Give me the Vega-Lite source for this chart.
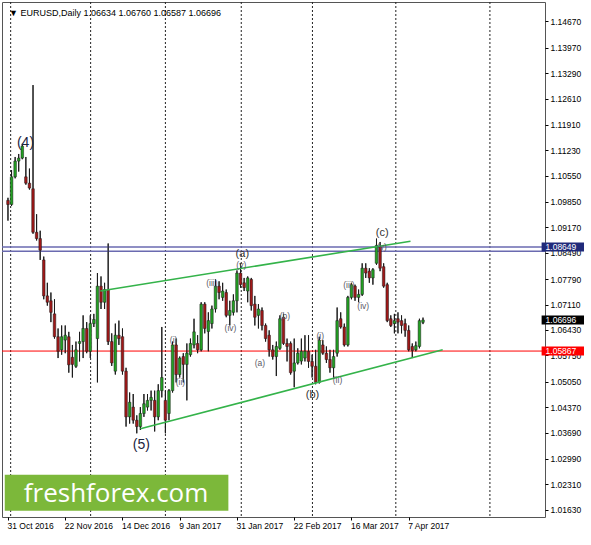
{
"$schema": "https://vega.github.io/schema/vega-lite/v6.json",
"width": 543, "height": 515,
"autosize": {"type": "none"},
"padding": {"left": 2, "top": 2, "right": 46, "bottom": 28},
"background": "white",
"config": {
 "view": {"stroke": "#555", "strokeWidth": 1},
 "axis": {"labelFont": "Liberation Sans", "labelFontSize": 8.5, "labelColor": "#000", "tickColor": "#000"}
},
"datasets": {
 "candles": [
{"i":0,"o":1.0989,"h":1.0996,"l":1.0935,"c":1.0978},
{"i":1,"o":1.0978,"h":1.1070,"l":1.0974,"c":1.1052},
{"i":2,"o":1.1052,"h":1.1105,"l":1.1048,"c":1.1094},
{"i":3,"o":1.1094,"h":1.1113,"l":1.1066,"c":1.1102},
{"i":4,"o":1.1102,"h":1.1140,"l":1.1099,"c":1.1134},
{"i":5,"o":1.1052,"h":1.1105,"l":1.1031,"c":1.1035},
{"i":6,"o":1.1035,"h":1.1074,"l":1.1018,"c":1.1022},
{"i":7,"o":1.1020,"h":1.1297,"l":1.0900,"c":1.0904},
{"i":8,"o":1.0904,"h":1.0952,"l":1.0882,"c":1.0887},
{"i":9,"o":1.0887,"h":1.0908,"l":1.0830,"c":1.0856},
{"i":10,"o":1.0830,"h":1.0839,"l":1.0725,"c":1.0734},
{"i":11,"o":1.0734,"h":1.0769,"l":1.0708,"c":1.0717},
{"i":12,"o":1.0721,"h":1.0743,"l":1.0664,"c":1.0690},
{"i":13,"o":1.0686,"h":1.0725,"l":1.0620,"c":1.0625},
{"i":14,"o":1.0625,"h":1.0647,"l":1.0568,"c":1.0586},
{"i":15,"o":1.0590,"h":1.0655,"l":1.0577,"c":1.0625},
{"i":16,"o":1.0616,"h":1.0655,"l":1.0581,"c":1.0629},
{"i":17,"o":1.0625,"h":1.0638,"l":1.0529,"c":1.0550},
{"i":18,"o":1.0570,"h":1.0603,"l":1.0516,"c":1.0551},
{"i":19,"o":1.0546,"h":1.0612,"l":1.0542,"c":1.0590},
{"i":20,"o":1.0607,"h":1.0638,"l":1.0559,"c":1.0612},
{"i":21,"o":1.0612,"h":1.0682,"l":1.0568,"c":1.0647},
{"i":22,"o":1.0647,"h":1.0664,"l":1.0581,"c":1.0586},
{"i":23,"o":1.0586,"h":1.0682,"l":1.0568,"c":1.0660},
{"i":24,"o":1.0660,"h":1.0686,"l":1.0651,"c":1.0671},
{"i":25,"o":1.0620,"h":1.0795,"l":1.0503,"c":1.0760},
{"i":26,"o":1.0760,"h":1.0786,"l":1.0699,"c":1.0717},
{"i":27,"o":1.0717,"h":1.0769,"l":1.0699,"c":1.0751},
{"i":28,"o":1.0751,"h":1.0874,"l":1.0603,"c":1.0612},
{"i":29,"o":1.0612,"h":1.0634,"l":1.0547,"c":1.0555},
{"i":30,"o":1.0533,"h":1.0660,"l":1.0524,"c":1.0629},
{"i":31,"o":1.0629,"h":1.0668,"l":1.0603,"c":1.0620},
{"i":32,"o":1.0625,"h":1.0647,"l":1.0524,"c":1.0533},
{"i":33,"o":1.0533,"h":1.0542,"l":1.0385,"c":1.0411},
{"i":34,"o":1.0411,"h":1.0476,"l":1.0393,"c":1.0450},
{"i":35,"o":1.0437,"h":1.0472,"l":1.0393,"c":1.0402},
{"i":36,"o":1.0402,"h":1.0415,"l":1.0367,"c":1.0385},
{"i":37,"o":1.0385,"h":1.0437,"l":1.0376,"c":1.0420},
{"i":38,"o":1.0420,"h":1.0472,"l":1.0411,"c":1.0446},
{"i":39,"o":1.0437,"h":1.0472,"l":1.0428,"c":1.0455},
{"i":40,"o":1.0455,"h":1.0481,"l":1.0428,"c":1.0463},
{"i":41,"o":1.0455,"h":1.0481,"l":1.0372,"c":1.0411},
{"i":42,"o":1.0411,"h":1.0498,"l":1.0402,"c":1.0481},
{"i":43,"o":1.0481,"h":1.0651,"l":1.0463,"c":1.0516},
{"i":44,"o":1.0455,"h":1.0481,"l":1.0367,"c":1.0402},
{"i":45,"o":1.0420,"h":1.0485,"l":1.0402,"c":1.0481},
{"i":46,"o":1.0481,"h":1.0612,"l":1.0476,"c":1.0603},
{"i":47,"o":1.0603,"h":1.0620,"l":1.0503,"c":1.0524},
{"i":48,"o":1.0524,"h":1.0572,"l":1.0516,"c":1.0568},
{"i":49,"o":1.0572,"h":1.0581,"l":1.0503,"c":1.0551},
{"i":50,"o":1.0551,"h":1.0607,"l":1.0455,"c":1.0581},
{"i":51,"o":1.0577,"h":1.0620,"l":1.0572,"c":1.0607},
{"i":52,"o":1.0603,"h":1.0673,"l":1.0594,"c":1.0638},
{"i":53,"o":1.0607,"h":1.0629,"l":1.0581,"c":1.0590},
{"i":54,"o":1.0590,"h":1.0717,"l":1.0586,"c":1.0712},
{"i":55,"o":1.0712,"h":1.0717,"l":1.0634,"c":1.0647},
{"i":56,"o":1.0639,"h":1.0690,"l":1.0586,"c":1.0668},
{"i":57,"o":1.0660,"h":1.0708,"l":1.0647,"c":1.0699},
{"i":58,"o":1.0699,"h":1.0778,"l":1.0690,"c":1.0760},
{"i":59,"o":1.0760,"h":1.0773,"l":1.0725,"c":1.0743},
{"i":60,"o":1.0730,"h":1.0769,"l":1.0721,"c":1.0747},
{"i":61,"o":1.0743,"h":1.0751,"l":1.0677,"c":1.0682},
{"i":62,"o":1.0682,"h":1.0721,"l":1.0655,"c":1.0695},
{"i":63,"o":1.0690,"h":1.0738,"l":1.0682,"c":1.0721},
{"i":64,"o":1.0721,"h":1.0802,"l":1.0690,"c":1.0795},
{"i":65,"o":1.0795,"h":1.0821,"l":1.0756,"c":1.0764},
{"i":66,"o":1.0769,"h":1.0782,"l":1.0747,"c":1.0756},
{"i":67,"o":1.0747,"h":1.0786,"l":1.0717,"c":1.0782},
{"i":68,"o":1.0778,"h":1.0782,"l":1.0695,"c":1.0708},
{"i":69,"o":1.0712,"h":1.0734,"l":1.0655,"c":1.0677},
{"i":70,"o":1.0682,"h":1.0712,"l":1.0647,"c":1.0699},
{"i":71,"o":1.0695,"h":1.0703,"l":1.0642,"c":1.0655},
{"i":72,"o":1.0655,"h":1.0660,"l":1.0612,"c":1.0620},
{"i":73,"o":1.0629,"h":1.0642,"l":1.0572,"c":1.0590},
{"i":74,"o":1.0590,"h":1.0603,"l":1.0564,"c":1.0572},
{"i":75,"o":1.0572,"h":1.0612,"l":1.0520,"c":1.0599},
{"i":76,"o":1.0594,"h":1.0682,"l":1.0590,"c":1.0673},
{"i":77,"o":1.0677,"h":1.0686,"l":1.0603,"c":1.0607},
{"i":78,"o":1.0607,"h":1.0620,"l":1.0559,"c":1.0599},
{"i":79,"o":1.0607,"h":1.0612,"l":1.0524,"c":1.0529},
{"i":80,"o":1.0533,"h":1.0620,"l":1.0490,"c":1.0555},
{"i":81,"o":1.0555,"h":1.0594,"l":1.0551,"c":1.0581},
{"i":82,"o":1.0560,"h":1.0620,"l":1.0551,"c":1.0586},
{"i":83,"o":1.0568,"h":1.0629,"l":1.0559,"c":1.0586},
{"i":84,"o":1.0586,"h":1.0629,"l":1.0542,"c":1.0559},
{"i":85,"o":1.0559,"h":1.0577,"l":1.0516,"c":1.0546},
{"i":86,"o":1.0546,"h":1.0590,"l":1.0498,"c":1.0503},
{"i":87,"o":1.0503,"h":1.0625,"l":1.0500,"c":1.0616},
{"i":88,"o":1.0603,"h":1.0616,"l":1.0577,"c":1.0581},
{"i":89,"o":1.0581,"h":1.0599,"l":1.0555,"c":1.0564},
{"i":90,"o":1.0564,"h":1.0590,"l":1.0529,"c":1.0542},
{"i":91,"o":1.0542,"h":1.0590,"l":1.0516,"c":1.0572},
{"i":92,"o":1.0581,"h":1.0703,"l":1.0572,"c":1.0668},
{"i":93,"o":1.0673,"h":1.0690,"l":1.0647,"c":1.0651},
{"i":94,"o":1.0651,"h":1.0660,"l":1.0599,"c":1.0603},
{"i":95,"o":1.0603,"h":1.0734,"l":1.0599,"c":1.0730},
{"i":96,"o":1.0730,"h":1.0769,"l":1.0725,"c":1.0764},
{"i":97,"o":1.0760,"h":1.0764,"l":1.0721,"c":1.0730},
{"i":98,"o":1.0730,"h":1.0751,"l":1.0717,"c":1.0738},
{"i":99,"o":1.0738,"h":1.0821,"l":1.0734,"c":1.0808},
{"i":100,"o":1.0808,"h":1.0821,"l":1.0782,"c":1.0795},
{"i":101,"o":1.0800,"h":1.0808,"l":1.0769,"c":1.0782},
{"i":102,"o":1.0782,"h":1.0808,"l":1.0764,"c":1.0804},
{"i":103,"o":1.0821,"h":1.0887,"l":1.0817,"c":1.0869},
{"i":104,"o":1.0865,"h":1.0878,"l":1.0800,"c":1.0808},
{"i":105,"o":1.0812,"h":1.0821,"l":1.0756,"c":1.0760},
{"i":106,"o":1.0764,"h":1.0769,"l":1.0664,"c":1.0668},
{"i":107,"o":1.0673,"h":1.0682,"l":1.0651,"c":1.0655},
{"i":108,"o":1.0660,"h":1.0686,"l":1.0634,"c":1.0668},
{"i":109,"o":1.0673,"h":1.0690,"l":1.0634,"c":1.0664},
{"i":110,"o":1.0668,"h":1.0682,"l":1.0634,"c":1.0655},
{"i":111,"o":1.0660,"h":1.0673,"l":1.0625,"c":1.0642},
{"i":112,"o":1.0642,"h":1.0655,"l":1.0586,"c":1.0590},
{"i":113,"o":1.0599,"h":1.0607,"l":1.0568,"c":1.0588},
{"i":114,"o":1.0590,"h":1.0612,"l":1.0586,"c":1.0601},
{"i":115,"o":1.0599,"h":1.0673,"l":1.0594,"c":1.0668},
{"i":116,"o":1.06634,"h":1.06760,"l":1.06587,"c":1.06696}
 ],
 "grid": [{"i":0.75},{"i":23.1},{"i":44.0},{"i":65.2},{"i":85.1},{"i":108.4},{"i":134.7}],
 "levels": [{"name":"resistance","price":1.08649},{"name":"resistance2","price":1.08535},{"name":"support","price":1.05867}],
 "boxes": [{"name":"resistance","price":1.08649,"text":"1.08649"},{"name":"bid","price":1.06696,"text":"1.06696"},{"name":"support","price":1.05867,"text":"1.05867"}],
 "channel": [{"line":"upper","i":25.8,"p":1.0747},{"line":"upper","i":112.5,"p":1.0880},{"line":"lower","i":37.0,"p":1.0379},{"line":"lower","i":121.5,"p":1.0590}],
 "waves": [
{"i":4.9,"p":1.1142,"label":"(4)","kind":"big"},
{"i":37.3,"p":1.0335,"label":"(5)","kind":"big"},
{"i":65.5,"p":1.0847,"label":"(a)","kind":"major"},
{"i":85.1,"p":1.0469,"label":"(b)","kind":"major"},
{"i":104.6,"p":1.0901,"label":"(c)","kind":"major"},
{"i":46.3,"p":1.0616,"label":"(i)","kind":"minor"},
{"i":48.2,"p":1.0503,"label":"(ii)","kind":"minor"},
{"i":57.0,"p":1.0769,"label":"(iii)","kind":"minor"},
{"i":62.2,"p":1.0647,"label":"(iv)","kind":"minor"},
{"i":65.2,"p":1.0817,"label":"(v)","kind":"minor"},
{"i":70.4,"p":1.0555,"label":"(a)","kind":"minor"},
{"i":77.4,"p":1.0680,"label":"(b)","kind":"minor"},
{"i":87.3,"p":1.0628,"label":"(i)","kind":"minor"},
{"i":92.1,"p":1.0510,"label":"(ii)","kind":"minor"},
{"i":95.3,"p":1.0764,"label":"(iii)","kind":"minor"},
{"i":99.3,"p":1.0706,"label":"(iv)","kind":"minor"},
{"i":104.5,"p":1.0864,"label":"(v)","kind":"minor"}
 ],
 "logo": [{"text":"freshforex.com"}],
 "header": [{"text":"▼  EURUSD,Daily  1.06634 1.06760 1.06587 1.06696"}]
},
"encoding": {
 "x": {"type":"quantitative","title":null,
   "scale":{"domain":[-0.274,148.7],"nice":false,"zero":false},
   "axis":{"orient":"bottom","values":[0,16,32,48,64,80,96,112],"domain":false,"grid":false,
     "labelExpr":"['31 Oct 2016','22 Nov 2016','14 Dec 2016','9 Jan 2017','31 Jan 2017','22 Feb 2017','16 Mar 2017','7 Apr 2017'][round(datum.value/16)]",
     "labelAlign":"left","labelBaseline":"top","labelPadding":1,"labelOffset":-1,"tickSize":3,"labelFlush":false,"labelOverlap":false}},
 "y": {"type":"quantitative","title":null,
   "scale":{"domain":[1.01569,1.15055],"nice":false,"zero":false},
   "axis":{"orient":"right","values":[1.1467,1.1397,1.1329,1.1261,1.1191,1.1123,1.1055,1.0985,1.0917,1.0849,1.0779,1.0711,1.0643,1.0575,1.0505,1.0437,1.0369,1.0299,1.0231,1.0163],
     "format":".5f","domain":false,"grid":false,"labelAlign":"left","labelBaseline":"middle","labelPadding":2,"tickSize":3,"labelOverlap":false,"labelFlush":false}}
},
"layer": [
 {"data":{"name":"candles"},
  "mark":{"type":"rule","color":"#1a1a1a","strokeWidth":1},
  "encoding":{"x":{"field":"i"},"y":{"field":"l"},"y2":{"field":"h"}}},
 {"data":{"name":"grid"},
  "mark":{"type":"rule","color":"#222","strokeDash":[2,2],"strokeWidth":1},
  "encoding":{"x":{"field":"i"},"y":null}},
 {"data":{"name":"levels"},
  "transform":[{"filter":"datum.name != 'support'"}],
  "mark":{"type":"rule","color":"#6a6ab0","strokeWidth":1.5},
  "encoding":{"x":null,"y":{"field":"price"}}},
 {"data":{"name":"levels"},
  "transform":[{"filter":"datum.name == 'support'"}],
  "mark":{"type":"rule","color":"#ff0000","strokeWidth":1},
  "encoding":{"x":null,"y":{"field":"price"}}},
 {"data":{"name":"candles"},
  "mark":{"type":"rule","color":"#1a1a1a","strokeWidth":1},
  "encoding":{"x":{"field":"i"},"y":{"field":"l"},"y2":{"field":"h"}}},
 {"data":{"name":"candles"},
  "mark":{"type":"bar","width":2.6,"stroke":"#1a1a1a","strokeWidth":0.5},
  "encoding":{"x":{"field":"i"},"y":{"field":"o"},"y2":{"field":"c"},
    "color":{"condition":{"test":"datum.o < datum.c","value":"#22a022"},"value":"#a01818"}}},
 {"data":{"name":"channel"},
  "mark":{"type":"line","color":"#34b34a","strokeWidth":1.6},
  "encoding":{"x":{"field":"i"},"y":{"field":"p"},"detail":{"field":"line"}}},
 {"data":{"name":"waves"},
  "transform":[{"filter":"datum.kind == 'big'"}],
  "mark":{"type":"text","font":"Liberation Sans","fontSize":14,"color":"#1b2440","align":"center","baseline":"middle"},
  "encoding":{"x":{"field":"i"},"y":{"field":"p"},"text":{"field":"label"}}},
 {"data":{"name":"waves"},
  "transform":[{"filter":"datum.kind == 'major'"}],
  "mark":{"type":"text","font":"Liberation Sans","fontSize":11,"color":"#333","align":"center","baseline":"middle"},
  "encoding":{"x":{"field":"i"},"y":{"field":"p"},"text":{"field":"label"}}},
 {"data":{"name":"waves"},
  "transform":[{"filter":"datum.kind == 'minor'"}],
  "mark":{"type":"text","font":"Liberation Sans","fontSize":8.5,"color":"#5a5a66","align":"center","baseline":"middle"},
  "encoding":{"x":{"field":"i"},"y":{"field":"p"},"text":{"field":"label"}}},
 {"data":{"name":"boxes"},
  "transform":[{"filter":"datum.name == 'resistance'"}],
  "mark":{"type":"bar","height":9,"color":"#202a7a"},
  "encoding":{"x":{"datum":149.15},"x2":{"datum":161.0},"y":{"field":"price"}}},
 {"data":{"name":"boxes"},
  "transform":[{"filter":"datum.name == 'bid'"}],
  "mark":{"type":"bar","height":9,"color":"#000000"},
  "encoding":{"x":{"datum":149.15},"x2":{"datum":161.0},"y":{"field":"price"}}},
 {"data":{"name":"boxes"},
  "transform":[{"filter":"datum.name == 'support'"}],
  "mark":{"type":"bar","height":9,"color":"#ff0000"},
  "encoding":{"x":{"datum":149.15},"x2":{"datum":161.0},"y":{"field":"price"}}},
 {"data":{"name":"boxes"},
  "mark":{"type":"text","font":"Liberation Sans","fontSize":8.5,"color":"#ffffff","align":"left","baseline":"middle"},
  "encoding":{"x":{"datum":150.26},"y":{"field":"price"},"text":{"field":"text"}}},
 {"data":{"name":"logo"},
  "mark":{"type":"rect","color":"#7cb83a"},
  "encoding":{"x":{"datum":-0.9},"x2":{"datum":61.6},"y":{"datum":1.02565},"y2":{"datum":1.01604}}},
 {"data":{"name":"logo"},
  "mark":{"type":"text","font":"Open Sans","fontSize":26,"color":"#ffffff","align":"center","baseline":"alphabetic"},
  "encoding":{"x":{"datum":30.2},"y":{"datum":1.01839},"text":{"field":"text"}}},
 {"data":{"name":"header"},
  "mark":{"type":"text","font":"Liberation Sans","fontSize":9,"color":"#000000","align":"left","baseline":"middle"},
  "encoding":{"x":{"datum":0.3},"y":{"datum":1.1489},"text":{"field":"text"}}}
]
}
